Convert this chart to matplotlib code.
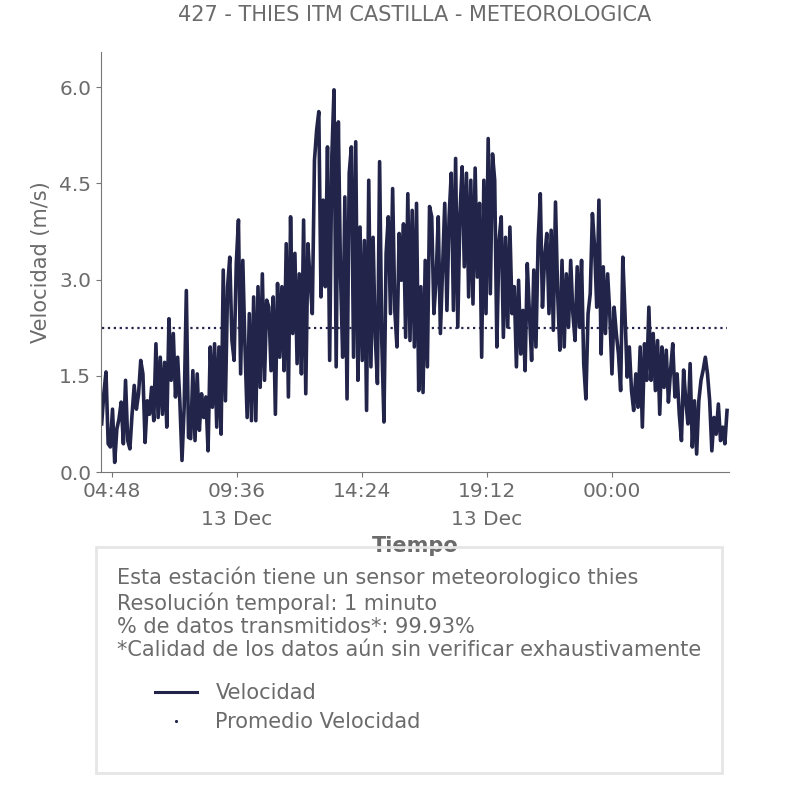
import numpy as np
import pandas as pd
import matplotlib
matplotlib.use("Agg")
import matplotlib.pyplot as plt
from matplotlib.lines import Line2D
from matplotlib.patches import Rectangle

# Velocidad del viento (m/s), un dato cada 5 minutos
bloque_1 = [0.75, 1.22, 1.56, 0.44, 0.39, 0.98, 0.15, 0.67, 0.83, 1.09, 0.44,
            1.43, 0.49, 0.36, 0.90, 1.35, 0.98, 1.22, 1.74, 1.53, 0.46, 1.11,
            0.90, 1.32, 0.80, 2.00, 0.85, 1.79, 0.90, 1.71, 0.70, 2.39, 1.43,
            2.16, 1.17, 1.79, 1.11, 0.18, 1.01, 2.83, 0.54]
bloque_2 = [0.52, 1.58, 0.49, 1.53, 0.65, 1.22, 0.85, 1.17, 0.33, 1.95, 1.01,
            2.00, 0.70, 1.95, 0.59, 3.15, 1.11, 2.89, 3.35, 2.05, 1.74, 3.25,
            3.93, 1.53, 3.30, 1.95, 0.85, 2.47, 0.80, 2.73, 0.80, 2.89, 1.32,
            3.09, 1.43, 2.68, 2.57, 1.58, 2.73, 0.90, 2.94]
bloque_3 = [1.79, 2.89, 1.58, 3.56, 1.17, 3.98, 2.16, 3.41, 1.69, 3.09, 1.53,
            3.93, 1.22, 3.56, 2.99, 2.47, 4.86, 5.33, 5.62, 2.73, 4.24, 2.89,
            5.07, 1.74, 4.92, 5.96, 1.64, 5.46, 3.09, 1.79, 4.29, 1.14, 4.66,
            5.07, 1.79, 5.15, 1.43, 3.82, 1.74, 3.61, 0.96]
bloque_4 = [4.55, 1.64, 3.66, 2.10, 1.38, 4.84, 2.05, 0.78, 3.41, 3.98, 2.47,
            4.42, 2.52, 1.95, 3.72, 2.99, 3.87, 2.10, 4.34, 2.05, 4.08, 1.95,
            4.19, 1.27, 2.89, 1.24, 3.30, 1.64, 4.14, 3.98, 2.47, 2.99, 3.98,
            2.16, 3.20, 4.19, 2.52, 3.98, 4.66, 2.52, 4.89]
bloque_5 = [2.26, 4.03, 4.76, 3.20, 4.66, 2.73, 4.55, 2.62, 4.74, 3.04, 4.19,
            1.79, 4.55, 2.47, 5.20, 2.78, 4.96, 4.55, 1.95, 3.61, 3.98, 2.10,
            3.66, 2.26, 3.82, 2.47, 2.89, 1.64, 2.99, 1.84, 2.52, 1.58, 3.25,
            2.47, 1.74, 3.15, 1.95, 3.61, 4.34, 2.57, 3.35]
bloque_6 = [3.72, 2.47, 3.77, 2.21, 4.21, 2.78, 1.90, 3.30, 1.95, 3.09, 2.26,
            3.30, 2.47, 2.05, 3.20, 2.26, 3.30, 1.69, 1.14, 2.47, 2.78, 4.03,
            3.51, 2.57, 4.24, 1.84, 3.20, 2.16, 3.09, 2.47, 1.53, 2.57, 2.16,
            1.84, 1.27, 3.35, 2.47, 1.48, 1.95, 1.27, 0.96]
bloque_7 = [1.53, 1.01, 1.95, 0.70, 2.00, 1.43, 2.57, 1.43, 2.16, 1.27, 2.05,
            0.90, 1.95, 1.32, 1.90, 1.09, 1.59, 2.00, 1.17, 1.53, 0.90, 0.49,
            1.59, 1.11, 0.75, 1.69, 0.39, 1.11, 0.28, 1.11, 1.43, 1.59, 1.79,
            1.53, 1.11, 0.33, 0.85, 0.59, 1.06, 0.49, 0.70, 0.44, 0.96]

promedio = 2.25  # linea punteada del promedio

tick_times = ["2023-12-13 04:48", "2023-12-13 09:36", "2023-12-13 14:24",
              "2023-12-13 19:12", "2023-12-14 00:00"]
tick_labels = ["04:48", "09:36\n13 Dec", "14:24", "19:12\n13 Dec", "00:00"]
y_ticks = [0.0, 1.5, 3.0, 4.5, 6.0]

info_lines = ["Esta estación tiene un sensor meteorologico thies",
              "Resolución temporal: 1 minuto",
              "% de datos transmitidos*: 99.93%",
              "*Calidad de los datos aún sin verificar exhaustivamente"]

# Series
velocidad = np.array(bloque_1 + bloque_2 + bloque_3 + bloque_4 +
                     bloque_5 + bloque_6 + bloque_7)
tiempo = pd.date_range("2023-12-13 04:25", periods=len(velocidad), freq="5min")

navy = "#22244a"
gray = "#6b6b6b"

fig = plt.figure(figsize=(8.06, 8.06), dpi=100)
ax = fig.add_axes([101 / 806, 1 - 472 / 806, 628 / 806, 420 / 806])

ax.plot(tiempo, velocidad, color=navy, lw=2.6, solid_joinstyle="round")
ax.plot([tiempo[0], tiempo[-1]], [promedio, promedio], color=navy, lw=1.6, ls=":")

ax.set_xlim(tiempo[0] - pd.Timedelta(minutes=1.5), tiempo[-1] + pd.Timedelta(minutes=4.5))
ax.set_ylim(0, 6.55)

ax.set_yticks(y_ticks)
ax.set_yticklabels([f"{v:.1f}" for v in y_ticks])
ax.set_xticks(pd.to_datetime(tick_times))
ax.set_xticklabels(tick_labels)
for t in ax.get_xticklabels():
    t.set_linespacing(1.6)

for side in ["top", "right"]:
    ax.spines[side].set_visible(False)
for side in ["left", "bottom"]:
    ax.spines[side].set_color("#777777")
ax.tick_params(colors="#777777", labelcolor=gray, labelsize=14.5)

ax.set_title("427 - THIES ITM CASTILLA - METEOROLOGICA", color=gray, fontsize=15, pad=22)
ax.set_ylabel("Velocidad (m/s)", color=gray, fontsize=15)
ax.yaxis.set_label_coords(-0.08, 0.5)
ax.set_xlabel("Tiempo", color=gray, fontsize=15, fontweight="bold")
ax.xaxis.set_label_coords(0.5, -0.153)

# Caja con informacion y leyenda
box = Rectangle((96 / 806, 1 - 773 / 806), 626 / 806, 226 / 806, transform=fig.transFigure,
                fill=False, edgecolor="#e6e6e6", lw=2)
fig.patches.append(box)

fig.text(117 / 806, 1 - 567 / 806, "\n".join(info_lines), color=gray, fontsize=15,
         va="top", ha="left", linespacing=1.21)

handles = [Line2D([], [], color=navy, lw=2.2),
           Line2D([], [], color=navy, ls="none", marker=".", markersize=2.5)]
fig.legend(handles, ["Velocidad", "Promedio Velocidad"], loc="upper left",
           bbox_to_anchor=(155 / 806, 1 - 683 / 806), frameon=False, fontsize=15,
           labelcolor=gray, borderpad=0, borderaxespad=0, handlelength=2.0,
           handletextpad=0.9, labelspacing=0.45)

fig.savefig("out.png", dpi=100)
